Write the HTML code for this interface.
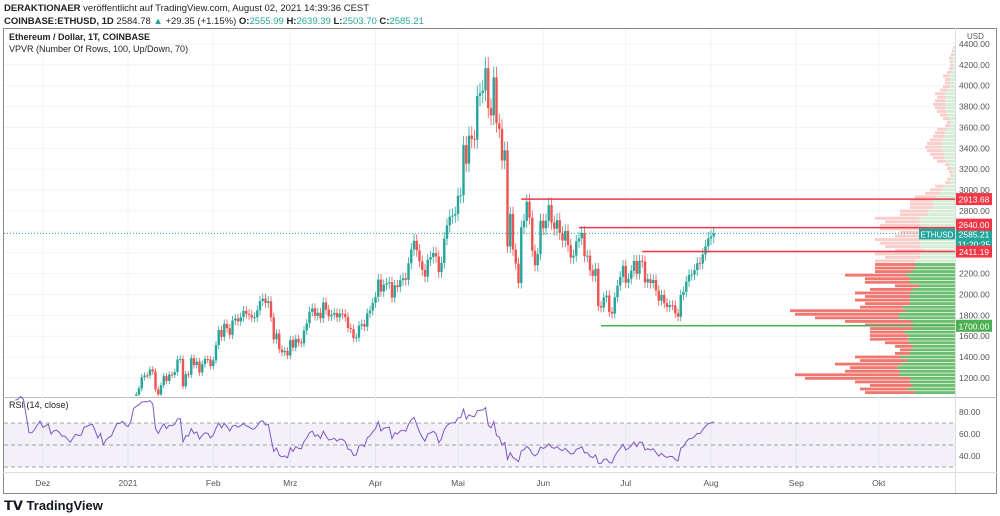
<!DOCTYPE html>
<html><head><meta charset="utf-8"><style>
body{margin:0;width:1000px;height:516px;background:#fff;overflow:hidden;font-family:"Liberation Sans",sans-serif}
.hdr{position:absolute;left:4px;font-size:9.5px;color:#222;white-space:nowrap}
</style></head><body>
<div class="hdr" style="top:3px"><b>DERAKTIONAER</b> veröffentlicht auf TradingView.com, August 02, 2021 14:39:36 CEST</div>
<div class="hdr" style="top:16px"><b>COINBASE:ETHUSD, 1D</b> 2584.78 <span style="color:#26a69a">▲</span> +29.35 (+1.15%) <b>O:</b><span style="color:#26a69a">2555.99</span> <b>H:</b><span style="color:#26a69a">2639.39</span> <b>L:</b><span style="color:#26a69a">2503.70</span> <b>C:</b><span style="color:#26a69a">2585.21</span></div>
<svg id="c" width="1000" height="516" style="position:absolute;left:0;top:0"></svg>
<div class="hdr" style="top:498px;font-size:13px;font-weight:bold;color:#131722">𝗧𝗩 TradingView</div>
<script>
const closes=[460,481,479,471,509,549,559,608,603,568,518,517,539,575,616,
588,598,616,569,596,601,591,573,573,559,545,568,590,585,588,636,644,654,659,639,610,635,584,611,626,635,683,730,731,751,737,
730,775,979,1041,1100,1208,1225,1224,1281,1262,1090,1043,1130,1218,1171,1233,1230,1257,1377,1382,1121,1236,1231,1390,1324,1357,1253,1332,1382,1377,1314,
1369,1515,1660,1594,1719,1677,1614,1750,1770,1743,1783,1843,1814,1804,1779,1781,1848,1937,1960,1919,1935,1781,1570,1626,1475,1446,1459,1416,
1565,1492,1575,1541,1533,1654,1723,1834,1868,1795,1825,1772,1924,1854,1791,1806,1823,1782,1817,1813,1783,1680,1669,1583,1588,1702,1716,1691,1819,1846,1919,
1977,2143,2028,2093,2107,2118,1971,2088,2072,2136,2155,2140,2299,2432,2514,2422,2317,2235,2171,2332,2358,2397,2364,2214,2303,2534,2662,2746,2756,2772,
2945,2950,3431,3253,3522,3490,3484,3902,3929,3952,4168,3785,3715,4079,3640,3587,3283,3380,2460,2772,2430,2296,2109,2643,2706,2888,2736,2419,2279,2387,2707,
2634,2707,2856,2689,2630,2711,2590,2517,2608,2472,2353,2372,2508,2537,2590,2367,2372,2231,2178,2246,1888,1875,1971,1990,1833,1817,1973,2085,2169,2274,
2113,2150,2226,2321,2198,2323,2315,2116,2146,2110,2139,2037,1940,1995,1917,1880,1898,1895,1820,1787,1995,2025,2124,2187,2191,2233,2300,2297,2384,2462,2536,
2556,2585];
const vpTotal=[90,95,85,100,150,160,110,105,120,95,100,60,55,60,70,85,85,85,85,90,110,140,160,165,95,90,100,90,100,85,60,90,90,110,80,80,80,80,70,80,60,70,75,80,60,55,75,75,70,80,55,55,45,45,45,40,30,25,20,10,8,5,6,8,10,18,22,25,28,30,28,25,22,20,18,10,8,12,15,18,20,22,20,18,20,15,12,10,10,12,8,6,5,5,6,4,3,2];
const vpUp=[0.45,0.5,0.5,0.45,0.3,0.35,0.5,0.55,0.45,0.5,0.55,0.75,0.8,0.7,0.65,0.55,0.55,0.6,0.5,0.45,0.4,0.4,0.35,0.3,0.55,0.5,0.45,0.5,0.45,0.5,0.6,0.5,0.5,0.45,0.55,0.5,0.5,0.5,0.5,0.45,0.5,0.5,0.45,0.45,0.5,0.5,0.45,0.45,0.5,0.45,0.5,0.5,0.5,0.5,0.5,0.5,0.5,0.5,0.5,0.5,0.5,0.5,0.5,0.5,0.5,0.5,0.45,0.45,0.45,0.45,0.45,0.5,0.5,0.5,0.5,0.5,0.5,0.5,0.5,0.5,0.5,0.45,0.45,0.5,0.5,0.5,0.5,0.5,0.5,0.5,0.5,0.5,0.5,0.5,0.5,0.5,0.5,0.5];
const priceTicks=[1200,1400,1600,1800,2000,2200,2400,2600,2800,3000,3200,3400,3600,3800,4000,4200,4400];
const monthLabels=["Dez","2021","Feb","Mrz","Apr","Mai","Jun","Jul","Aug","Sep","Okt"];
const monthDayIdx=[15,46,77,105,136,166,197,227,258,289,319];
const levels=[2913.68,2640.00,2411.19,1700.00];
const levelStartIdx=[189,210,233,218];
const levelColor=["#f23645","#f23645","#f23645","#4caf50"];
const rsiTicks=[80,60,40];
const last=2585.21;

const svg=document.getElementById('c');const NS='http://www.w3.org/2000/svg';
function el(t,a,p){const e=document.createElementNS(NS,t);for(const k in a)e.setAttribute(k,a[k]);(p||svg).appendChild(e);return e;}
const X=i=>128+(i-46)*2.75;
const Y=p=>378-(p-1200)*0.1044;
const R=r=>412+(80-r)*1.1;
const AX=955;
let f=el('rect',{x:3.5,y:28.5,width:993,height:465,fill:'none',stroke:'#888'});

el('line',{x1:3,x2:997,y1:397.5,y2:397.5,stroke:'#bbb'});
el('line',{x1:3,x2:997,y1:472.5,y2:472.5,stroke:'#ddd'});
el('line',{x1:AX+.5,x2:AX+.5,y1:28,y2:493,stroke:'#ddd'});
priceTicks.forEach(p=>{const y=Y(p);el('line',{x1:4,x2:AX,y1:y,y2:y,stroke:'#f0f3fa'});
 const t=el('text',{x:959,y:y+3,'font-size':8.5,fill:'#555'});t.textContent=p.toFixed(2);
 });
monthLabels.forEach((m,k)=>{const x=X(monthDayIdx[k]);el('line',{x1:x,x2:x,y1:29,y2:472,stroke:'#f0f3fa'});
 const t=el('text',{x:x,y:486,'font-size':8.5,fill:'#555','text-anchor':'middle'});t.textContent=m;
 });
let ut=el('text',{x:967,y:39,'font-size':8,fill:'#555'});ut.textContent='USD';
let t1=el('text',{x:9,y:40,'font-size':9,'font-weight':'bold',fill:'#222'});t1.textContent='Ethereum / Dollar, 1T, COINBASE';

let t2=el('text',{x:9,y:52,'font-size':9,fill:'#222'});t2.textContent='VPVR (Number Of Rows, 100, Up/Down, 70)';

let t3=el('text',{x:9,y:408,'font-size':9,fill:'#222'});t3.textContent='RSI (14, close)';

const defs=el('defs',{});const cp=el('clipPath',{id:'pc'},defs);el('rect',{x:4,y:29,width:AX-4,height:367},cp);
const g=el('g',{'clip-path':'url(#pc)'});
const lo=1040,hi=4380,step=(hi-lo)/vpTotal.length;
vpTotal.forEach((v,i)=>{const p0=lo+i*step,y=Y(p0+step);const h=Math.max(1,Y(p0)-y-0.7);
 const va=p0<2280;const w=v*1.0,wu=w*vpUp[i];
 let a=el('rect',{x:AX-w,y:y,width:w-wu,height:h,fill:va?'#f0776f':'#f9cdc9'},g);
 
 let b=el('rect',{x:AX-wu,y:y,width:wu,height:h,fill:va?'#6cbf70':'#d5ecd6'},g);
 });
for(let i=1;i<closes.length;i++){const o=closes[i-1],c=closes[i];const up=c>=o;const col=up?'#26a69a':'#ef5350';
 const x=X(i);const hi2=Math.max(o,c)*1.025,lo2=Math.min(o,c)*0.975;
 let w=el('line',{x1:x,x2:x,y1:Y(hi2),y2:Y(lo2),stroke:col,'stroke-width':0.8},g);
 
 let b=el('rect',{x:x-1.2,y:Y(Math.max(o,c)),width:2.4,height:Math.max(1,Math.abs(Y(o)-Y(c))),fill:col},g);
 }
el('line',{x1:4,x2:AX,y1:Y(last),y2:Y(last),stroke:'#26a69a','stroke-dasharray':'1,2'});
const ly=Y(last);
el('rect',{x:919,y:ly-5,width:36,height:11,fill:'#26a69a'});
let e1=el('text',{x:937,y:ly+4,'font-size':8,fill:'#fff','text-anchor':'middle'});e1.textContent='ETHUSD';
el('rect',{x:AX+1,y:ly-5,width:36,height:22,fill:'#26a69a'});
let e2=el('text',{x:AX+19,y:ly+4,'font-size':8.5,fill:'#fff','text-anchor':'middle'});e2.textContent=last.toFixed(2);
let e3=el('text',{x:AX+19,y:ly+14,'font-size':8.5,fill:'#fff','text-anchor':'middle'});e3.textContent='11:20:25';

levels.forEach((p,k)=>{const y=Y(p);let l=el('line',{x1:X(levelStartIdx[k]),x2:AX,y1:y,y2:y,stroke:levelColor[k],'stroke-width':1.5});
 
 const yy=k===1?y-3:y;
 el('rect',{x:AX+1,y:yy-6,width:36,height:12,fill:levelColor[k]});
 const t=el('text',{x:AX+19,y:yy+3.5,'font-size':8.5,fill:'#fff','text-anchor':'middle'});t.textContent=p.toFixed(2);
 });
el('rect',{x:4,y:R(70),width:AX-4,height:R(30)-R(70),fill:'rgba(126,87,194,0.09)'});
[70,50,30].forEach(v=>el('line',{x1:4,x2:AX,y1:R(v),y2:R(v),stroke:'#888','stroke-dasharray':'4,3','stroke-width':0.8}));
rsiTicks.forEach(v=>{const t=el('text',{x:959,y:R(v)+3,'font-size':8.5,fill:'#555'});t.textContent=v.toFixed(2);
 });
let ag=0,al=0,pts=[];const N=14;
for(let i=1;i<closes.length;i++){const d=closes[i]-closes[i-1];const gn=Math.max(d,0),ls=Math.max(-d,0);
 if(i<=N){ag+=gn/N;al+=ls/N;}else{ag=(ag*(N-1)+gn)/N;al=(al*(N-1)+ls)/N;}
 if(i>=5){const rsi=al===0?100:100-100/(1+ag/al);pts.push(X(i).toFixed(1)+','+R(rsi).toFixed(1));}}
let rl=el('polyline',{points:pts.join(' '),fill:'none',stroke:'#7e57c2','stroke-width':1});

</script>
</body></html>
